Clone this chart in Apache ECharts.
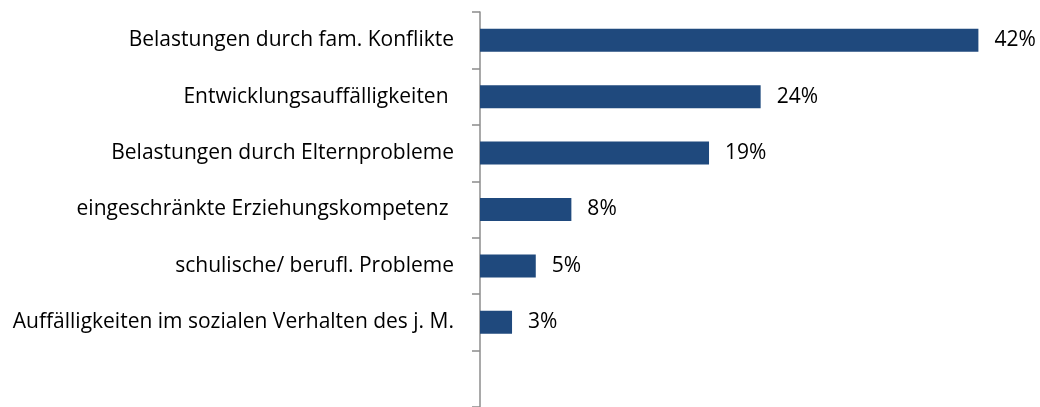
<!DOCTYPE html>
<html>
<head>
<meta charset="utf-8">
<script src="https://cdn.jsdelivr.net/npm/echarts@6/dist/echarts.min.js"></script>
<style>
	html, body { margin: 0; padding: 0; background: #fff; }
	#chart { width: 1040px; height: 407px; }
</style>
</head>
<body>
<div id="chart"></div>
<script>
// categories top to bottom, last slot is empty in the original
const categories = [
	"Belastungen durch fam. Konflikte",
	"Entwicklungsauffälligkeiten ",
	"Belastungen durch Elternprobleme",
	"eingeschränkte Erziehungskompetenz ",
	"schulische/ berufl. Probleme",
	"Auffälligkeiten im sozialen Verhalten des j. M.",
	""
];
// shares in percent (labels are rounded)
const shares = [42.0, 23.65, 19.3, 7.7, 4.7, 2.7, null];

const chart = echarts.init(document.getElementById("chart"));
chart.setOption({
	animation: false,
	textStyle: { fontFamily: "Open Sans" },
	grid: { left: 480, right: 26, top: 12, bottom: -9 },
	xAxis: {
		type: "value",
		min: 0,
		max: 45,
		show: false
	},
	yAxis: {
		type: "category",
		inverse: true,
		data: categories,
		axisLine: { show: true, lineStyle: { color: "#8c8c8c", width: 1.5 } },
		axisTick: { show: true, length: 8, lineStyle: { color: "#8c8c8c", width: 1.5 } },
		axisLabel: { color: "#000", fontSize: 21, margin: 26 }
	},
	series: [{
		type: "bar",
		data: shares,
		barWidth: 23,
		itemStyle: { color: "#1f497d" },
		label: {
			show: true,
			position: "right",
			distance: 16,
			color: "#000",
			fontSize: 21,
			formatter: p => Math.round(p.value) + "%"
		}
	}]
});
</script>
</body>
</html>
